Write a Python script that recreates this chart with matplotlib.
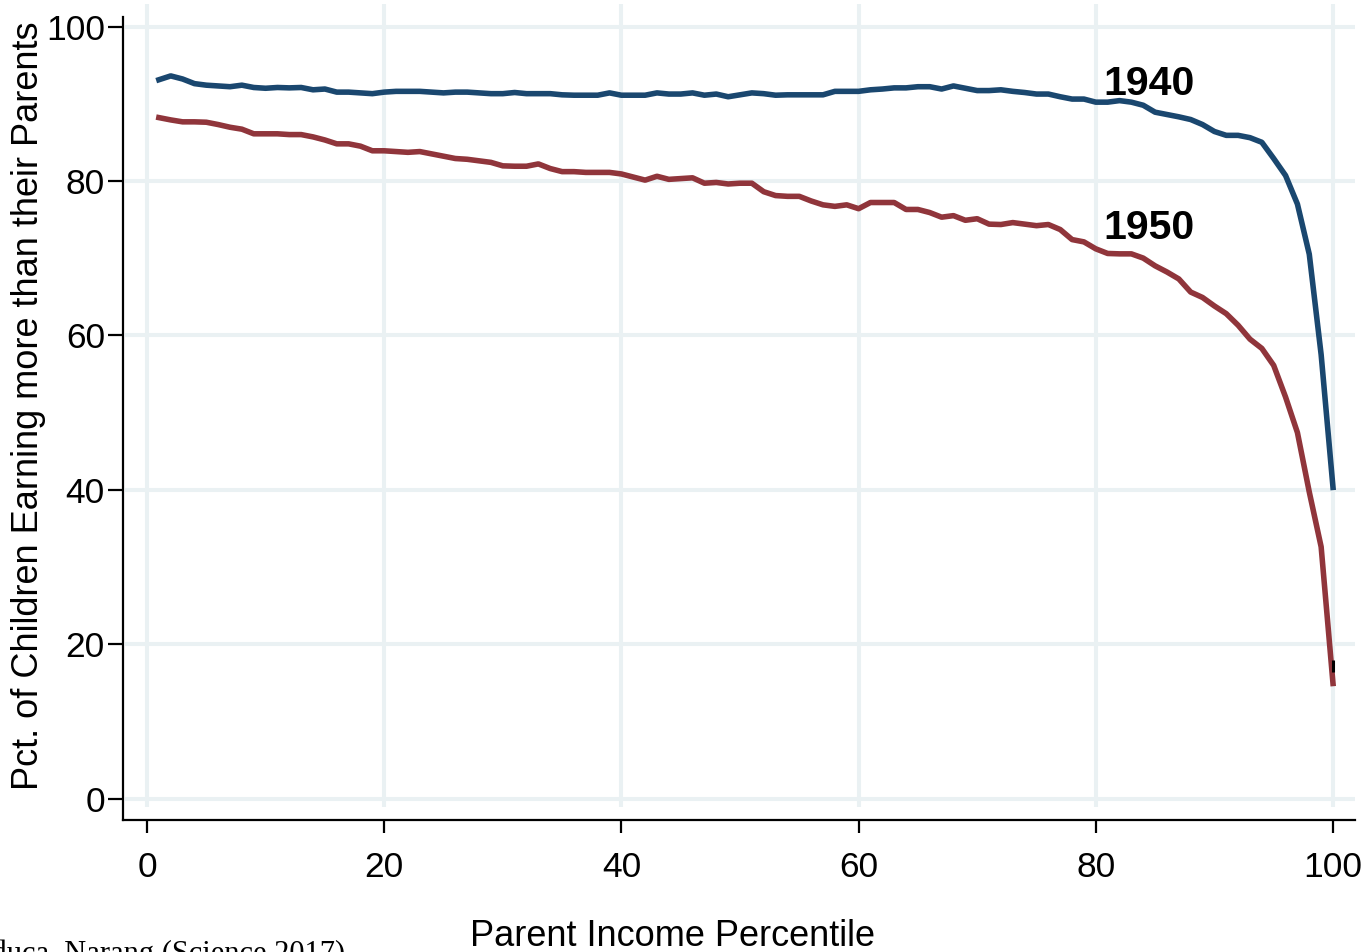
import matplotlib
matplotlib.use("Agg")
import matplotlib.pyplot as plt

percentile = list(range(1, 101))

cohort_1940 = [
    93.1, 93.6, 93.2, 92.6, 92.4, 92.3, 92.2, 92.4, 92.1, 92.0,
    92.1, 92.05, 92.1, 91.8, 91.9, 91.5, 91.5, 91.4, 91.3, 91.5,
    91.6, 91.6, 91.6, 91.5, 91.4, 91.5, 91.5, 91.4, 91.3, 91.3,
    91.45, 91.3, 91.3, 91.3, 91.15, 91.1, 91.1, 91.1, 91.4, 91.1,
    91.1, 91.1, 91.4, 91.25, 91.25, 91.4, 91.1, 91.25, 90.9, 91.15,
    91.4, 91.3, 91.1, 91.15, 91.15, 91.15, 91.15, 91.6, 91.6, 91.6,
    91.8, 91.9, 92.05, 92.05, 92.2, 92.2, 91.9, 92.3, 92.0, 91.7,
    91.7, 91.8, 91.6, 91.45, 91.25, 91.25, 90.9, 90.6, 90.6, 90.2,
    90.2, 90.4, 90.2, 89.8, 88.9, 88.6, 88.3, 87.95, 87.3, 86.4,
    85.9, 85.9, 85.6, 85.0, 82.9, 80.7, 77.0, 70.5, 57.5, 40.3,
]

cohort_1950 = [
    88.2, 87.9, 87.65, 87.65, 87.6, 87.3, 86.95, 86.7, 86.1, 86.1,
    86.1, 86.0, 86.0, 85.7, 85.3, 84.8, 84.8, 84.5, 83.9, 83.9,
    83.8, 83.7, 83.8, 83.5, 83.2, 82.9, 82.8, 82.6, 82.4, 81.95,
    81.9, 81.9, 82.2, 81.6, 81.2, 81.2, 81.1, 81.1, 81.1, 80.9,
    80.5, 80.1, 80.6, 80.2, 80.3, 80.4, 79.7, 79.8, 79.6, 79.7,
    79.7, 78.6, 78.1, 78.0, 78.0, 77.4, 76.9, 76.7, 76.9, 76.4,
    77.2, 77.2, 77.2, 76.3, 76.3, 75.9, 75.3, 75.5, 74.9, 75.1,
    74.4, 74.35, 74.6, 74.4, 74.2, 74.35, 73.7, 72.4, 72.1, 71.2,
    70.6, 70.55, 70.55, 70.0, 69.0, 68.2, 67.3, 65.6, 64.9, 63.8,
    62.8, 61.3, 59.5, 58.3, 56.1, 52.0, 47.4, 39.7, 32.6, 14.9,
]

series_labels = ["1940", "1950"]
x_ticks = [0, 20, 40, 60, 80, 100]
y_ticks = [0, 20, 40, 60, 80, 100]

W, H = 1371, 952
fig = plt.figure(figsize=(W / 100, H / 100), dpi=100)
fig.patch.set_facecolor("white")

# axes box in pixels
L, R, B, T = 123, 1355, 820, 4
ax = fig.add_axes([L / W, (H - B) / H, (R - L) / W, (B - T) / H])

# data->pixel mapping
x0px, xs = 147.0, 11.86
y0px, ys = 798.5, 7.72
ax.set_xlim((L - x0px) / xs, (R - x0px) / xs)
ax.set_ylim((y0px - B) / ys, (y0px - T) / ys)

grid_c = "#eaf1f3"
ytop_axis = (y0px - 17) / ys
yv_bottom = (y0px - 807) / ys
ax.vlines(x_ticks, yv_bottom, ax.get_ylim()[1], colors=grid_c, lw=2.9, zorder=0)
ax.hlines(y_ticks, (125 - x0px) / xs, ax.get_xlim()[1], colors=grid_c, lw=2.9, zorder=0)

ax.plot(percentile, cohort_1940, color="#1a476f", lw=4.0, solid_joinstyle="round", zorder=3)
ax.plot(percentile, cohort_1950, color="#90353b", lw=4.0, solid_joinstyle="round", zorder=3)
ax.plot([100], [17.1], marker="|", color="black", markersize=9, markeredgewidth=2.2, zorder=4)

ax.text(80.6, 91.1, series_labels[0], fontsize=29.5, fontweight="bold",
        family="Liberation Sans", ha="left", va="baseline")
ax.text(80.6, 72.5, series_labels[1], fontsize=29.5, fontweight="bold",
        family="Liberation Sans", ha="left", va="baseline")

for s in ["top", "right"]:
    ax.spines[s].set_visible(False)
ax.spines["left"].set_bounds(ax.get_ylim()[0], ytop_axis)
ax.spines["left"].set_linewidth(1.6)
ax.spines["bottom"].set_linewidth(1.6)

ax.set_xticks(x_ticks)
ax.set_yticks(y_ticks)
ax.set_xticklabels([str(v) for v in x_ticks], family="Liberation Sans", fontsize=25.5)
ax.set_yticklabels([str(v) for v in y_ticks], family="Liberation Sans", fontsize=25.5)
ax.tick_params(axis="x", direction="out", length=9, width=1.6, pad=13)
ax.tick_params(axis="y", direction="out", length=11, width=1.6, pad=2)

fig.text(673 / W, (H - 946) / H, "Parent Income Percentile", family="Liberation Sans",
         fontsize=26, ha="center", va="baseline")
fig.text(29 / W, (H - 406) / H, "Pct. of Children Earning more than their Parents",
         family="Liberation Sans", fontsize=26, rotation=90, ha="center", va="center")
fig.text(345 / W, (H - 962) / H,
         "Source: Chetty, Grusky, Hell, Hendren, Manduca, Narang (Science 2017)",
         family="Liberation Serif", fontsize=22, ha="right", va="baseline")

fig.savefig("out.png", dpi=100, facecolor="white")
